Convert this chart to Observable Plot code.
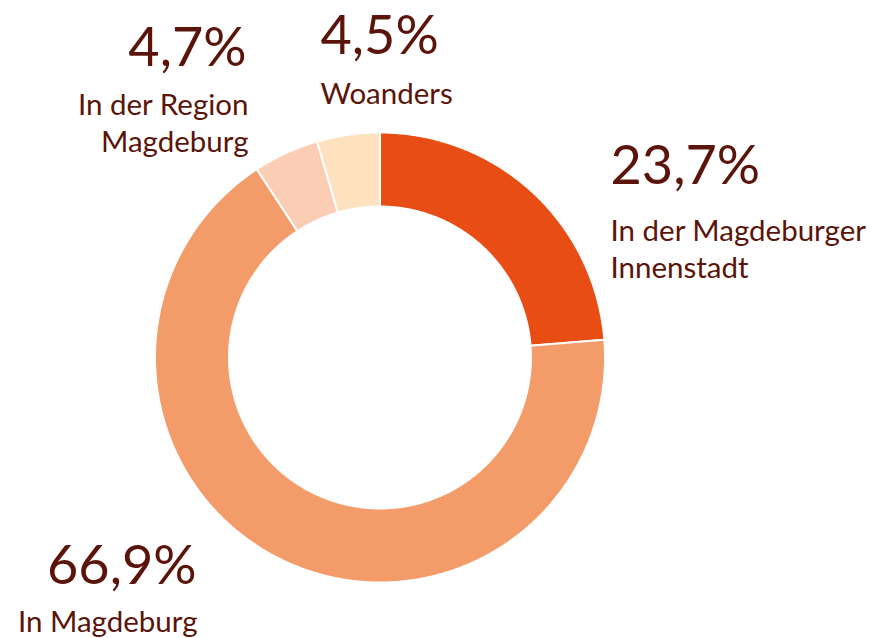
<!DOCTYPE html>
<html>
<head>
<meta charset="utf-8">
<script src="https://cdn.jsdelivr.net/npm/d3@7"></script>
<script src="https://cdn.jsdelivr.net/npm/@observablehq/plot@0.6"></script>
<style>
  html, body { margin: 0; padding: 0; background: #fff; }
  #chart { width: 877px; height: 638px; }
</style>
</head>
<body>
<div id="chart"></div>
<script>
// ---- data ----
const categories = ["In der Magdeburger Innenstadt", "In Magdeburg", "In der Region Magdeburg", "Woanders"];
const shares = [23.7, 66.9, 4.7, 4.5];
const valueLabels = ["23,7%", "66,9%", "4,7%", "4,5%"];
const nameLabels = ["In der Magdeburger\nInnenstadt", "In Magdeburg", "In der Region\nMagdeburg", "Woanders"];
const colors = ["#e84e14", "#f39c6a", "#facdb4", "#fee2c0"];

// ---- layout (pixels in the 877x638 frame) ----
const W = 877, H = 638;
const cx = 379.5, cy = 357, R = 225, innerRatio = 0.671;
const labelLayout = [
  {vx: 610, vy: 183, nx: 610, ny: 277, anchor: "start"},
  {vx: 196, vy: 583, nx: 197, ny: 631, anchor: "end"},
  {vx: 246, vy: 65,  nx: 248, ny: 151, anchor: "end"},
  {vx: 320, vy: 53,  nx: 320, ny: 103, anchor: "start"}
];
const toX = px => (px - cx) / R;
const toY = py => (cy - py) / R;

// ---- build ring polygons from shares ----
const arcs = d3.pie().sort(null).value(d => d)(shares);
const poly = [];
arcs.forEach((a, i) => {
  const n = Math.max(4, Math.ceil((a.endAngle - a.startAngle) / 0.01));
  for (let k = 0; k <= n; k++) {
    const t = a.startAngle + (a.endAngle - a.startAngle) * k / n;
    poly.push({cat: categories[i], x: Math.sin(t), y: Math.cos(t)});
  }
  for (let k = n; k >= 0; k--) {
    const t = a.startAngle + (a.endAngle - a.startAngle) * k / n;
    poly.push({cat: categories[i], x: innerRatio * Math.sin(t), y: innerRatio * Math.cos(t)});
  }
});

const labels = categories.map((c, i) => ({
  cat: c, value: valueLabels[i], name: nameLabels[i], ...labelLayout[i]
}));

const textColor = "#5a1409";
const font = "Lato, 'Open Sans', sans-serif";

const chart = Plot.plot({
  width: W,
  height: H,
  margin: 0,
  style: {fontFamily: font, background: "#fff"},
  x: {domain: [toX(0), toX(W)], axis: null},
  y: {domain: [toY(H), toY(0)], axis: null},
  color: {domain: categories, range: colors},
  marks: [
    Plot.line(poly, {x: "x", y: "y", z: "cat", fill: "cat", stroke: "#fff", strokeWidth: 2, curve: "linear-closed"}),
    ...["start", "end"].map(anc => Plot.text(labels.filter(d => d.anchor === anc), {
      x: d => toX(d.vx), y: d => toY(d.vy), text: "value",
      textAnchor: anc, lineAnchor: "bottom", fontSize: 54, fill: textColor
    })),
    ...["start", "end"].map(anc => Plot.text(labels.filter(d => d.anchor === anc), {
      x: d => toX(d.nx), y: d => toY(d.ny), text: "name",
      textAnchor: anc, lineAnchor: "bottom", fontSize: 29.5, lineHeight: 1.25, fill: textColor
    }))
  ]
});
document.getElementById("chart").appendChild(chart);
</script>
</body>
</html>
